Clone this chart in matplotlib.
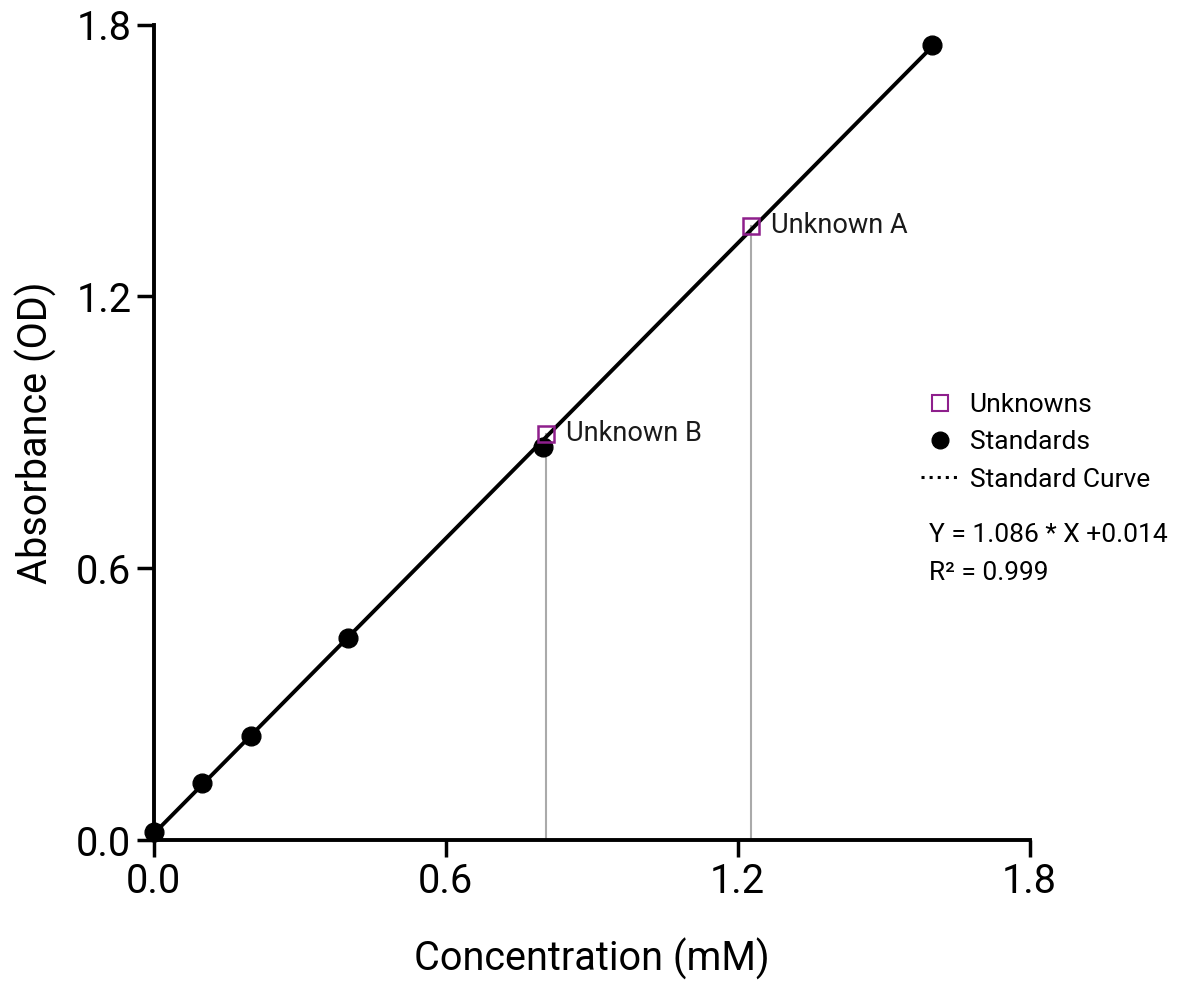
import numpy as np
import matplotlib.pyplot as plt
from matplotlib.lines import Line2D

plt.rcParams['font.family'] = ['Roboto', 'DejaVu Sans']

# Standards
std_conc = [0.0, 0.1, 0.2, 0.4, 0.8, 1.6]
std_abs = [0.018, 0.126, 0.230, 0.446, 0.868, 1.754]

# Unknowns
unk_names = ['Unknown A', 'Unknown B']
unk_conc = [1.228, 0.807]
unk_abs = [1.356, 0.897]

# Fit
slope = 1.086
intercept = 0.014
fit_x = [0.0, 1.6]

ticks = [0.0, 0.6, 1.2, 1.8]
purple = '#8e1f8c'

fig = plt.figure(figsize=(12, 9.85), dpi=100)
ax = fig.add_axes([0.128, 0.147, 0.73, 0.828])

# gray drop lines from unknowns
for xc, yc in zip(unk_conc, unk_abs):
    ax.plot([xc, xc], [0, yc], color='#aaaaaa', lw=1.5, zorder=1)

fx = np.array(fit_x)
ax.plot(fx, slope * fx + intercept, color='black', lw=2.8, zorder=2)
ax.plot(std_conc, std_abs, 'o', color='black', ms=13.5, zorder=3, clip_on=False)
ax.plot(unk_conc, unk_abs, 's', mfc='none', mec=purple, mew=1.8, ms=12, zorder=4)

for name, xc, yc in zip(unk_names, unk_conc, unk_abs):
    ax.annotate(name, (xc, yc), xytext=(14, 0), textcoords='offset points',
                va='center', ha='left', fontsize=19.5, color='#1a1a1a')

ax.set_xlim(0, 1.8)
ax.set_ylim(0, 1.8)
ax.set_xticks(ticks)
ax.set_yticks(ticks)
ax.set_xticklabels(['%.1f' % t for t in ticks])
ax.set_yticklabels(['%.1f' % t for t in ticks])
ax.tick_params(axis='both', labelsize=28.5, width=2.5, length=12, direction='out', pad=4)
ax.spines['top'].set_visible(False)
ax.spines['right'].set_visible(False)
ax.spines['left'].set_linewidth(2.8)
ax.spines['bottom'].set_linewidth(2.8)

ax.set_xlabel('Concentration (mM)', fontsize=28.5, labelpad=26)
ax.set_ylabel('Absorbance (OD)', fontsize=28.5, labelpad=14)

handles = [
    Line2D([], [], marker='s', ls='none', mfc='none', mec=purple, mew=1.5, ms=12),
    Line2D([], [], marker='o', ls='none', color='black', ms=12),
    Line2D([], [], ls=':', color='black', lw=2.2),
]
fig.legend(handles, ['Unknowns', 'Standards', 'Standard Curve'],
           loc='upper left', bbox_to_anchor=(0.748, 0.625), frameon=False,
           fontsize=19, handlelength=1.45, handletextpad=0.38, labelspacing=0.5)

fig.text(0.774, 0.457, 'Y = 1.086 * X +0.014', fontsize=19, va='center')
fig.text(0.774, 0.418, 'R² = 0.999', fontsize=19, va='center')

fig.savefig('out.png', dpi=100)
